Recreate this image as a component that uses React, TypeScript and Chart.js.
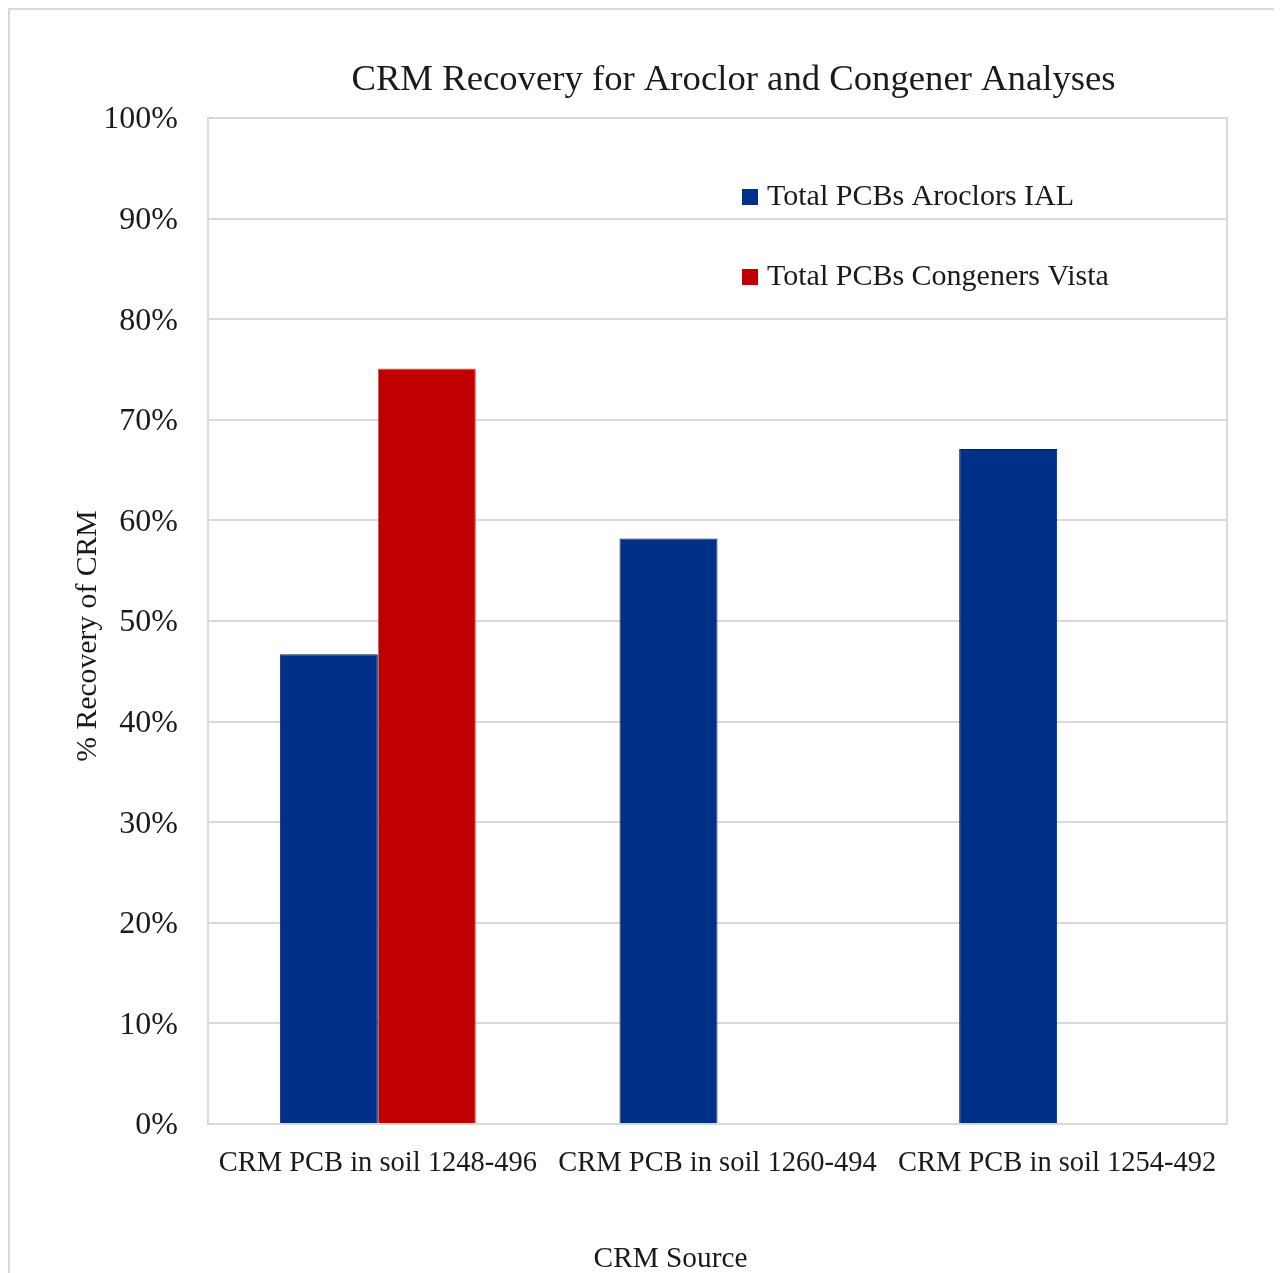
import React, { useEffect, useRef } from "react";
import { Chart, registerables } from "chart.js";

Chart.register(...registerables);

const categories = [
  "CRM PCB in soil 1248-496",
  "CRM PCB in soil 1260-494",
  "CRM PCB in soil 1254-492",
];
const seriesLabels = ["Total PCBs Aroclors IAL", "Total PCBs Congeners Vista"];
const aroclorValues: (number | null)[] = [46.7, 58.2, 67.1];
const congenerValues: (number | null)[] = [75.1, null, null];
const yTickValues = [0, 10, 20, 30, 40, 50, 60, 70, 80, 90, 100];
const chartTitle = "CRM Recovery for Aroclor and Congener Analyses";
const xAxisTitle = "CRM Source";
const yAxisTitle = "% Recovery of CRM";

const FONT = '"Liberation Serif", serif';
const TEXT = "#1a1a1a";
const GRID = "#d9d9d9";
const BLUE = "#003087";
const RED = "#c00000";

const W = 1274;
const H = 1265;

const decor = {
  id: "decor",
  beforeDatasetsDraw(chart: any) {
    const { ctx, chartArea: a } = chart;
    ctx.save();
    ctx.strokeStyle = GRID;
    ctx.lineWidth = 2;
    ctx.strokeRect(a.left, a.top, a.right - a.left, a.bottom - a.top);
    ctx.restore();
  },
  afterDraw(chart: any) {
    const { ctx, chartArea: a } = chart;
    ctx.save();
    // outer frame (left + top)
    ctx.strokeStyle = GRID;
    ctx.lineWidth = 2;
    ctx.beginPath();
    ctx.moveTo(1, H);
    ctx.lineTo(1, 1);
    ctx.lineTo(W, 1);
    ctx.stroke();

    ctx.fillStyle = TEXT;
    ctx.textBaseline = "middle";
    // title
    ctx.font = `36.7px ${FONT}`;
    ctx.textAlign = "center";
    ctx.fillText(chartTitle, (a.left + a.right) / 2 + 16, a.top - 38);
    // x title
    ctx.font = `29.3px ${FONT}`;
    ctx.fillText(xAxisTitle, (a.left + a.right) / 2 - 47, a.bottom + 135);
    // y title
    ctx.font = `29.7px ${FONT}`;
    ctx.save();
    ctx.translate(80, (a.top + a.bottom) / 2 + 15);
    ctx.rotate(-Math.PI / 2);
    ctx.fillText(yAxisTitle, 0, 0);
    ctx.restore();

    // legend
    const ds = chart.data.datasets;
    ds.forEach((d: any, i: number) => {
      const cy = a.top + 79 + i * 80;
      const x = a.left + 534;
      ctx.fillStyle = d.backgroundColor;
      ctx.fillRect(x, cy - 8, 16, 16);
      ctx.fillStyle = TEXT;
      ctx.textAlign = "left";
      ctx.font = `30px ${FONT}`;
      ctx.fillText(d.label, x + 25, cy);
    });
    ctx.restore();
  },
};

export default function App() {
  const ref = useRef<HTMLCanvasElement | null>(null);

  useEffect(() => {
    document.body.style.overflow = "hidden";
    if (!ref.current) return;
    const chart = new Chart(ref.current, {
      type: "bar",
      data: {
        labels: categories,
        datasets: [
          {
            label: seriesLabels[0],
            data: aroclorValues,
            backgroundColor: BLUE,
            borderColor: "#00225f",
            borderWidth: 1,
            categoryPercentage: 0.577,
            barPercentage: 1,
          },
          {
            label: seriesLabels[1],
            data: congenerValues,
            backgroundColor: RED,
            borderColor: "#d85050",
            borderWidth: 1,
            categoryPercentage: 0.577,
            barPercentage: 1,
          },
        ],
      },
      options: {
        responsive: false,
        animation: false,
        layout: { padding: { left: 0, top: 110, right: 55, bottom: 0 } },
        plugins: {
          legend: { display: false },
          title: { display: false },
          tooltip: { enabled: false },
        },
        scales: {
          x: {
            grid: { display: false, drawTicks: false },
            border: { display: false },
            ticks: {
              color: TEXT,
              font: { family: FONT, size: 28.5 },
              padding: 22,
              maxRotation: 0,
              autoSkip: false,
            },
            afterFit(scale: any) {
              scale.height = H - 1116;
            },
          },
          y: {
            min: 0,
            max: 100,
            afterBuildTicks(scale: any) {
              scale.ticks = yTickValues.map((v) => ({ value: v }));
            },
            grid: { color: GRID, lineWidth: 2, drawTicks: false },
            border: { display: false },
            ticks: {
              color: TEXT,
              font: { family: FONT, size: 32 },
              padding: 30,
              labelOffset: 2,
              callback: (v: any) => `${v}%`,
            },
            afterFit(scale: any) {
              scale.width = 200;
            },
          },
        },
      },
      plugins: [decor],
    });
    return () => chart.destroy();
  }, []);

  return (
    <canvas
      ref={ref}
      width={W}
      height={H}
      style={{ display: "block", width: W, height: H }}
    />
  );
}
